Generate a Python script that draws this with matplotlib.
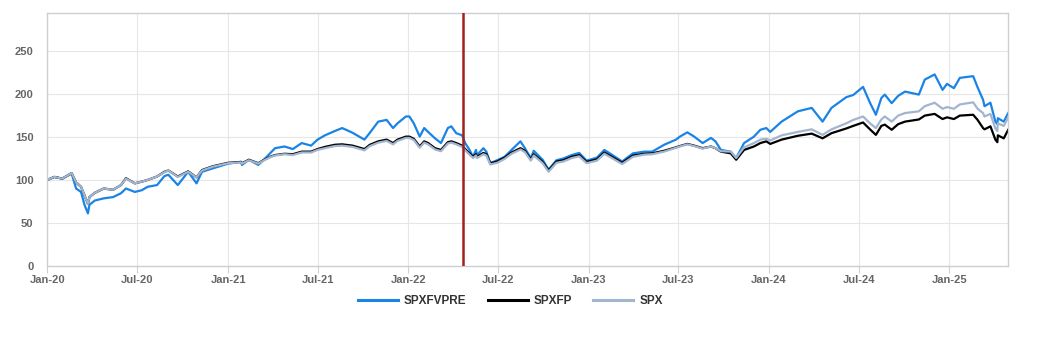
import matplotlib
matplotlib.use("Agg")
import matplotlib.pyplot as plt
import pandas as pd

plt.rcParams["font.family"] = ["Liberation Sans", "DejaVu Sans"]

# Index levels rebased to 100 at the start of 2020
dates = (
    ["2020-01-01", "2020-01-15", "2020-01-31", "2020-02-19", "2020-02-28", "2020-03-09", "2020-03-16",
     "2020-03-23", "2020-03-26", "2020-04-06", "2020-04-24", "2020-05-13", "2020-05-29", "2020-06-08",
     "2020-06-26", "2020-07-10", "2020-07-22", "2020-08-10", "2020-08-25", "2020-09-02", "2020-09-21",
     "2020-10-12", "2020-10-29", "2020-11-09", "2020-12-01"]
    + ["2021-01-01", "2021-01-27", "2021-01-29", "2021-02-12", "2021-03-03", "2021-03-15", "2021-03-27",
       "2021-04-06", "2021-04-25", "2021-05-12", "2021-05-30", "2021-06-18", "2021-07-01", "2021-07-16",
       "2021-08-05", "2021-08-20", "2021-09-10", "2021-10-04", "2021-10-15", "2021-11-01", "2021-11-18",
       "2021-12-01", "2021-12-10", "2021-12-27"]
    + ["2022-01-03", "2022-01-12", "2022-01-24", "2022-02-02", "2022-02-10", "2022-02-24", "2022-03-08",
       "2022-03-22", "2022-03-29", "2022-04-08", "2022-04-20", "2022-04-26", "2022-05-05", "2022-05-12",
       "2022-05-18", "2022-05-20", "2022-06-02", "2022-06-08", "2022-06-16", "2022-06-30", "2022-07-15",
       "2022-07-29", "2022-08-16", "2022-08-25", "2022-09-06", "2022-09-12", "2022-09-30", "2022-10-12",
       "2022-10-28", "2022-11-11", "2022-11-28", "2022-12-13", "2022-12-28"]
    + ["2023-01-18", "2023-02-02", "2023-02-17", "2023-03-10", "2023-04-01", "2023-04-24", "2023-05-10",
       "2023-06-03", "2023-06-27", "2023-07-05", "2023-07-20", "2023-08-03", "2023-08-20", "2023-09-06",
       "2023-09-15", "2023-09-26", "2023-10-16", "2023-10-27", "2023-11-12", "2023-12-02", "2023-12-15",
       "2023-12-27"]
    + ["2024-01-04", "2024-01-27", "2024-02-29", "2024-03-28", "2024-04-19", "2024-05-07", "2024-06-06",
       "2024-06-20", "2024-07-10", "2024-07-24", "2024-08-05", "2024-08-16", "2024-08-23", "2024-09-06",
       "2024-09-19", "2024-10-03", "2024-10-31", "2024-11-12", "2024-12-02", "2024-12-18", "2024-12-27"]
    + ["2025-01-10", "2025-01-22", "2025-02-18", "2025-02-27", "2025-03-10", "2025-03-13", "2025-03-25",
       "2025-04-04", "2025-04-08", "2025-04-09", "2025-04-21", "2025-04-30"]
)

spxfvpre = (
    [100, 103.5, 101.5, 107.5, 90, 86, 71, 61, 71, 76, 78.5, 80, 84.5, 90, 86, 88, 92, 94, 104.5, 106,
     94, 109.5, 96, 109.5, 113.5]
    + [119, 121, 117.5, 123.5, 117.5, 124, 131, 137, 139, 136, 143, 140, 147, 152, 157, 160.5, 155, 147,
       155, 168, 170, 160.5, 166, 174]
    + [174, 166, 150.5, 160.5, 156, 148.5, 143, 160.5, 162.5, 154.5, 152, 143, 135, 127, 135, 129, 137,
       133, 119.5, 123, 127, 135, 145, 137, 125.5, 134, 123.5, 112, 123, 125, 129, 131.5, 122.5]
    + [126, 135, 129.5, 121.5, 131, 133, 133, 141, 147, 150.5, 155.5, 150.5, 143, 149, 145, 135, 133,
       125.5, 143, 150.5, 158.5, 160.5]
    + [156, 168, 180, 184, 168, 184, 196.5, 199, 208.5, 190, 176, 195.5, 199.5, 189.5, 198, 203, 199.5,
       217, 223, 205, 212]
    + [207, 219, 221, 208, 193.5, 186, 190, 168, 165, 172, 168, 178]
)

spxfp = (
    [100, 103.5, 101.5, 108, 97, 92, 82, 72, 80, 85, 90, 88.5, 94, 102, 96, 98, 100, 104, 109.5, 111,
     104, 110, 103, 111.5, 116]
    + [120, 121, 119.5, 123.5, 119.5, 123.5, 127, 129, 130.5, 130, 133, 133, 136, 138.5, 141, 141.5, 140,
       136, 141, 145, 147, 143, 147, 150.5]
    + [150.5, 148, 139, 145, 143, 137, 135, 144, 145, 143, 140, 136, 131, 127, 130, 127, 131.5, 130,
       119.5, 121.5, 126, 132, 137, 134, 124, 130, 121, 111, 121.5, 123, 127, 129, 121]
    + [124, 132, 127, 120, 128.5, 130.5, 131, 134, 138, 139.5, 142, 140, 137, 139, 137, 133, 131, 123.5,
       135, 139, 143, 145]
    + [142, 147, 151.5, 154, 148.5, 154.5, 160, 163, 167, 159, 152.5, 163, 164.5, 158.5, 165, 168, 170.5,
       175, 177, 171, 173]
    + [171, 175, 176, 170, 160.5, 159, 162.5, 147, 144, 152, 148.5, 158.5]
)

spx = (
    [100, 103.5, 101.5, 108, 97, 92, 82, 72, 80, 85, 90, 88.5, 94, 101.5, 96, 98, 100, 104, 109, 111,
     103.5, 109.5, 103, 111, 115.5]
    + [119.5, 120.5, 119, 123, 119, 123, 126.5, 128.5, 130, 129, 132, 132, 135, 137, 139.5, 140, 138.5,
       134.5, 139.5, 143.5, 145.5, 141.5, 145.5, 149]
    + [149, 146.5, 137.5, 143.5, 141.5, 135.5, 133.5, 142.5, 143.5, 141.5, 138.5, 134.5, 129.5, 125.5,
       128.5, 125.5, 130, 128.5, 118, 120, 124.5, 130.5, 135.5, 132.5, 122.5, 128.5, 119.5, 109.5, 120,
       121.5, 125.5, 127.5, 119.5]
    + [122.5, 130.5, 125.5, 118.5, 127, 129.5, 130, 133, 137.5, 139, 141.5, 139.5, 136.5, 139, 137,
       133.5, 133, 125.5, 138, 143, 147, 148]
    + [146, 152, 156, 159, 152.5, 159, 166, 170, 174, 166, 160.5, 170.5, 174, 168, 175, 178, 180, 186,
       190, 183, 185]
    + [183, 188, 190.5, 183, 178, 174, 177, 160, 157, 166, 163, 173]
)

series_names = ["SPXFVPRE", "SPXFP", "SPX"]
series_colors = ["#1a84e6", "#000000", "#a2b5cf"]
event_date = "2022-04-22"
tick_dates = ["2020-01-01", "2020-07-01", "2021-01-01", "2021-07-01", "2022-01-01", "2022-07-01",
              "2023-01-01", "2023-07-01", "2024-01-01", "2024-07-01", "2025-01-01"]
tick_labels = ["Jan-20", "Jul-20", "Jan-21", "Jul-21", "Jan-22", "Jul-22",
               "Jan-23", "Jul-23", "Jan-24", "Jul-24", "Jan-25"]
y_ticks = [0, 50, 100, 150, 200, 250]

df = pd.DataFrame({"SPXFVPRE": spxfvpre, "SPXFP": spxfp, "SPX": spx}, index=pd.to_datetime(dates))

fig = plt.figure(figsize=(10.5, 3.5), dpi=100)
ax = fig.add_axes([0.0452, 0.2409, 0.915, 0.7228])

lines = []
for name, color in zip(series_names, series_colors):
    (line,) = ax.plot(df.index, df[name], color=color, lw=1.6, label=name)
    lines.append(line)

ax.axvline(pd.Timestamp(event_date), color="#a3201d", lw=1.8, zorder=5)

# Axes limits, grid and frame
ax.set_xlim(pd.Timestamp("2020-01-01"), pd.Timestamp("2025-04-30"))
ax.set_ylim(0, 295)
ax.set_xticks(pd.to_datetime(tick_dates))
ax.set_xticklabels(tick_labels)
ax.set_yticks(y_ticks)
ax.grid(True, color="#e6e6e6", lw=0.8)
ax.set_axisbelow(True)
for spine in ax.spines.values():
    spine.set_color("#ccd0d6")
    spine.set_linewidth(1.0)

ax.tick_params(axis="x", length=5, color="#ccd0d6", labelsize=8, labelcolor="#666666", pad=2)
ax.tick_params(axis="y", length=0, labelsize=8, labelcolor="#666666", pad=10)
for lbl in ax.get_xticklabels() + ax.get_yticklabels():
    lbl.set_fontweight("bold")

leg = fig.legend(
    handles=lines,
    loc="center",
    bbox_to_anchor=(0.486, 0.14),
    ncol=3,
    frameon=False,
    prop={"weight": "bold", "size": 8.5},
    handlelength=3.4,
    handletextpad=0.5,
    columnspacing=1.8,
)
for txt in leg.get_texts():
    txt.set_color("#333333")
for h in leg.legend_handles:
    h.set_linewidth(2.2)

fig.savefig("out.png", dpi=100)
